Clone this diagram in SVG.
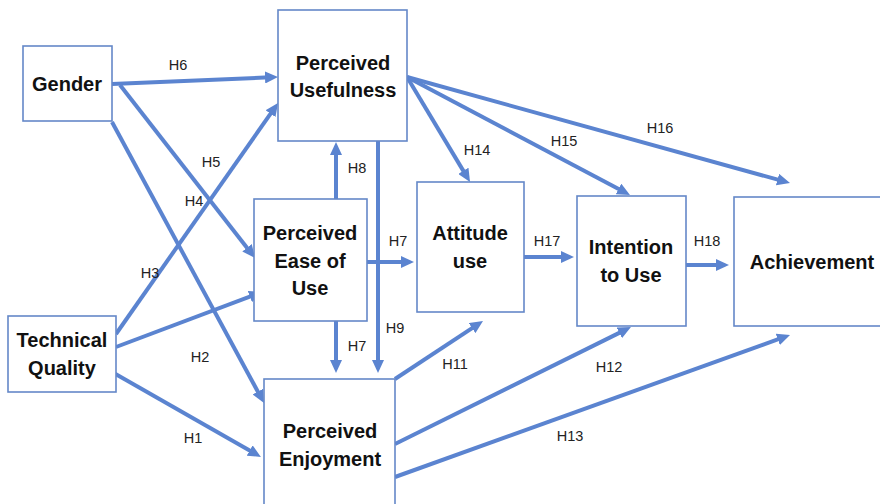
<svg xmlns="http://www.w3.org/2000/svg" width="880" height="504" viewBox="0 0 880 504">
<style>
.box{fill:#ffffff;stroke:#6488c8;stroke-width:1.6}
.t{font-family:"Liberation Sans",Arial,sans-serif;font-weight:bold;font-size:20px;fill:#111;text-anchor:middle}
.l{font-family:"Liberation Sans",Arial,sans-serif;font-size:14.5px;fill:#222;text-anchor:middle}
.c{stroke:#5b84d0;stroke-width:4;fill:none}
</style>
<defs>
<marker id="ah" markerUnits="userSpaceOnUse" markerWidth="14" markerHeight="12" viewBox="0 0 14 12" refX="5" refY="6" orient="auto">
<path d="M0,0 L13,6 L0,12 z" fill="#5b84d0"/>
</marker>
</defs>
<rect width="880" height="504" fill="#ffffff"/>
<g id="connectors">
<line class="c" x1="112" y1="84" x2="270" y2="77.3" marker-end="url(#ah)"/>
<line class="c" x1="120" y1="85" x2="250.1" y2="251.7" marker-end="url(#ah)"/>
<line class="c" x1="112" y1="122" x2="260.2" y2="396" marker-end="url(#ah)"/>
<line class="c" x1="116" y1="334" x2="273.4" y2="109.6" marker-end="url(#ah)"/>
<line class="c" x1="116" y1="347" x2="254.5" y2="294.8" marker-end="url(#ah)"/>
<line class="c" x1="112" y1="372" x2="254" y2="453" marker-end="url(#ah)"/>
<line class="c" x1="336" y1="199" x2="336" y2="150" marker-end="url(#ah)"/>
<line class="c" x1="336" y1="321" x2="336" y2="365" marker-end="url(#ah)"/>
<line class="c" x1="378" y1="141" x2="378" y2="365" marker-end="url(#ah)"/>
<line class="c" x1="367" y1="262" x2="406" y2="262" marker-end="url(#ah)"/>
<line class="c" x1="407" y1="77" x2="465.9" y2="175.1" marker-end="url(#ah)"/>
<line class="c" x1="407" y1="77" x2="622.9" y2="191.3" marker-end="url(#ah)"/>
<line class="c" x1="407" y1="77" x2="782.3" y2="180.9" marker-end="url(#ah)"/>
<line class="c" x1="524" y1="257" x2="566" y2="257" marker-end="url(#ah)"/>
<line class="c" x1="686" y1="265" x2="721" y2="265" marker-end="url(#ah)"/>
<line class="c" x1="395" y1="379" x2="476.3" y2="325.4" marker-end="url(#ah)"/>
<line class="c" x1="395" y1="444" x2="623.8" y2="330.6" marker-end="url(#ah)"/>
<line class="c" x1="395" y1="477" x2="782.5" y2="337.7" marker-end="url(#ah)"/>
<text class="l" x="178" y="70">H6</text>
<text class="l" x="211" y="167">H5</text>
<text class="l" x="194" y="206">H4</text>
<text class="l" x="150" y="278">H3</text>
<text class="l" x="200" y="362">H2</text>
<text class="l" x="193" y="443">H1</text>
<text class="l" x="357" y="173">H8</text>
<text class="l" x="398" y="246">H7</text>
<text class="l" x="357" y="351">H7</text>
<text class="l" x="395" y="333">H9</text>
<text class="l" x="477" y="155">H14</text>
<text class="l" x="564" y="146">H15</text>
<text class="l" x="660" y="133">H16</text>
<text class="l" x="547" y="246">H17</text>
<text class="l" x="707" y="246">H18</text>
<text class="l" x="455" y="369">H11</text>
<text class="l" x="609" y="372">H12</text>
<text class="l" x="570" y="441">H13</text>
</g>
<g id="gender">
<rect class="box" x="23" y="46" width="89" height="75"/>
<text class="t" x="67" y="91">Gender</text>
</g>
<g id="perceived-usefulness">
<rect class="box" x="278" y="10" width="129" height="131"/>
<text class="t" x="343" y="70">Perceived</text>
<text class="t" x="343" y="97">Usefulness</text>
</g>
<g id="perceived-ease-of-use">
<rect class="box" x="254" y="199" width="113" height="122"/>
<text class="t" x="310" y="240">Perceived</text>
<text class="t" x="310" y="268">Ease of</text>
<text class="t" x="310" y="295">Use</text>
</g>
<g id="attitude-use">
<rect class="box" x="417" y="182" width="107" height="130"/>
<text class="t" x="470" y="240">Attitude</text>
<text class="t" x="470" y="268">use</text>
</g>
<g id="intention-to-use">
<rect class="box" x="577" y="196" width="109" height="130"/>
<text class="t" x="631" y="254">Intention</text>
<text class="t" x="631" y="282">to Use</text>
</g>
<g id="achievement">
<rect class="box" x="734" y="197" width="160" height="129"/>
<text class="t" x="812" y="269">Achievement</text>
</g>
<g id="technical-quality">
<rect class="box" x="8" y="316" width="108" height="76"/>
<text class="t" x="62" y="347">Technical</text>
<text class="t" x="62" y="375">Quality</text>
</g>
<g id="perceived-enjoyment">
<rect class="box" x="264" y="379" width="131" height="140"/>
<text class="t" x="330" y="438">Perceived</text>
<text class="t" x="330" y="466">Enjoyment</text>
</g>
</svg>
